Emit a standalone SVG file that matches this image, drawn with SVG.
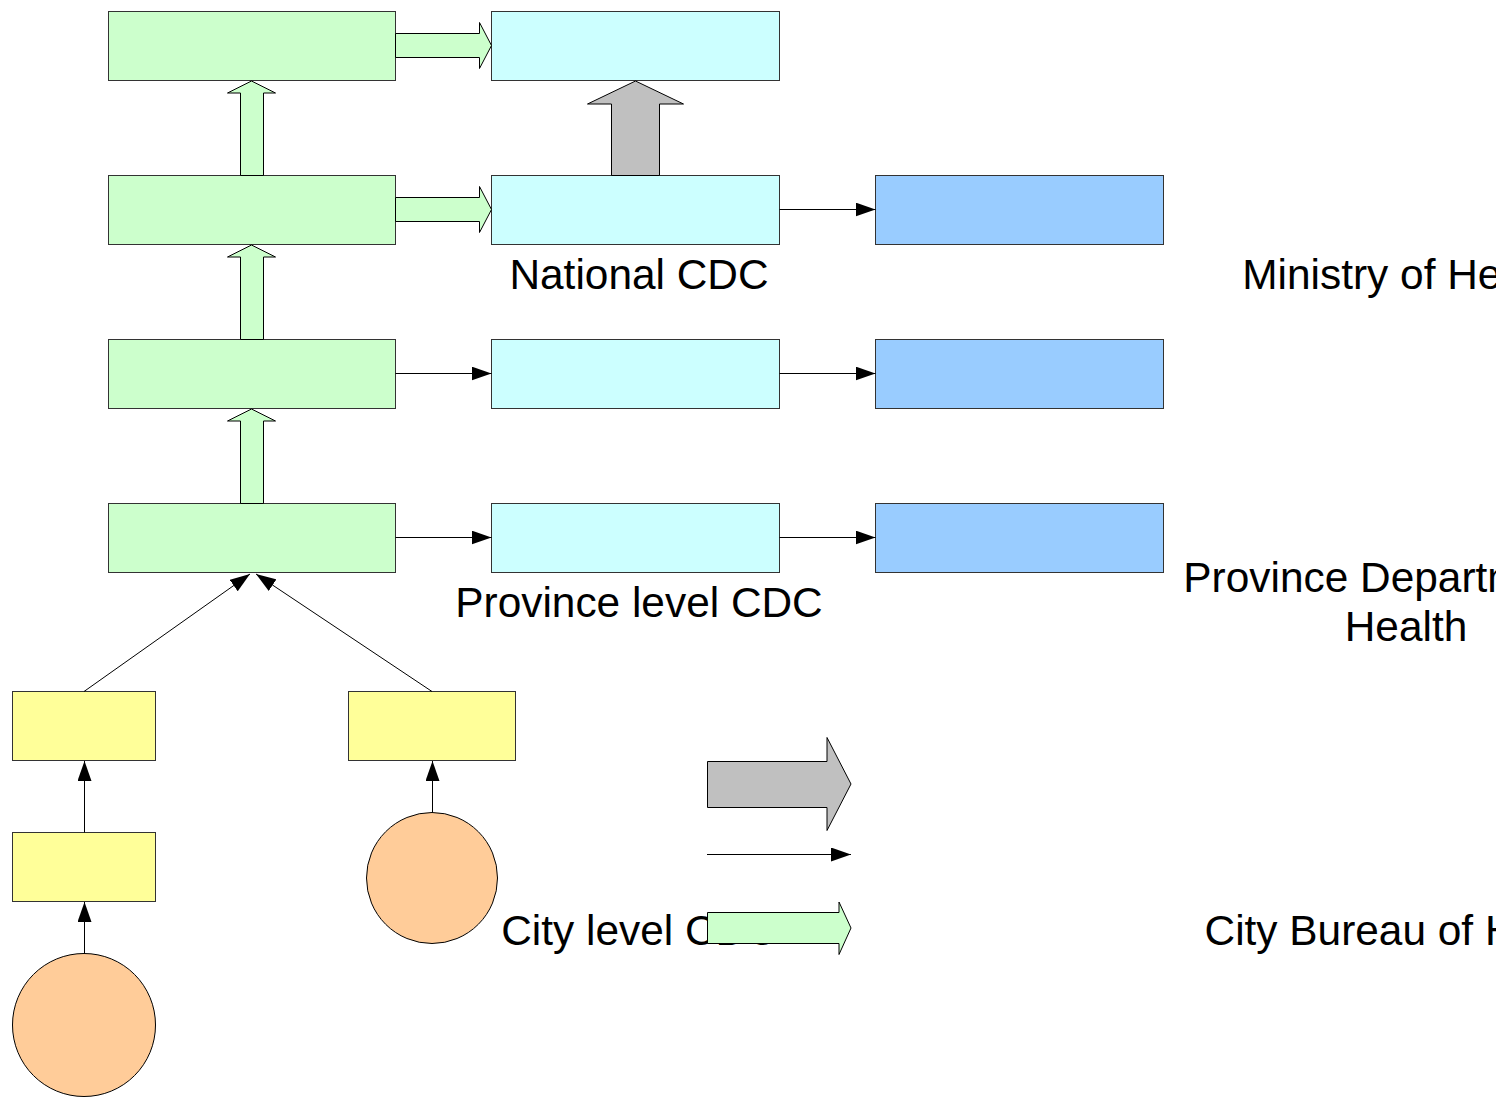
<svg xmlns="http://www.w3.org/2000/svg" width="1496" height="1097" viewBox="0 0 1496 1097">
<style>
.g{fill:#ccffcc;stroke:#333;stroke-width:1}
.c{fill:#ccffff;stroke:#333;stroke-width:1}
.b{fill:#99ccff;stroke:#333;stroke-width:1}
.y{fill:#ffff99;stroke:#333;stroke-width:1}
.o{fill:#ffcc99;stroke:#000;stroke-width:1}
.gr{fill:#c0c0c0;stroke:#000;stroke-width:1}
.ga{fill:#ccffcc;stroke:#000;stroke-width:1}
.ln{stroke:#000;stroke-width:1;fill:none;marker-end:url(#ah)}
.t{font-family:"Liberation Sans",Arial,sans-serif;font-size:42.4px;fill:#000;text-anchor:middle}
</style>
<defs>
<marker id="ah" markerWidth="20" markerHeight="14" refX="20" refY="7" orient="auto" markerUnits="userSpaceOnUse">
<path d="M0,0 L20,7 L0,14 Z" fill="#000"/>
</marker>
</defs>
<g id="labels">
<text class="t" x="639" y="289">National CDC</text>
<text class="t" x="1406" y="289">Ministry of Health</text>
<text class="t" x="639" y="617">Province level CDC</text>
<text class="t" x="1406" y="592">Province Department of</text>
<text class="t" x="1406" y="641">Health</text>
<text class="t" x="639" y="945">City level CDC</text>
<text class="t" x="1406" y="945">City Bureau of Health</text>
</g>
<g id="nodes">
<g id="g1"><rect class="g" x="108.5" y="11.5" width="287" height="69"/></g>
<g id="g2"><rect class="g" x="108.5" y="175.5" width="287" height="69"/></g>
<g id="g3"><rect class="g" x="108.5" y="339.5" width="287" height="69"/></g>
<g id="g4"><rect class="g" x="108.5" y="503.5" width="287" height="69"/></g>
<g id="c1"><rect class="c" x="491.5" y="11.5" width="288" height="69"/></g>
<g id="c2"><rect class="c" x="491.5" y="175.5" width="288" height="69"/></g>
<g id="c3"><rect class="c" x="491.5" y="339.5" width="288" height="69"/></g>
<g id="c4"><rect class="c" x="491.5" y="503.5" width="288" height="69"/></g>
<g id="b2"><rect class="b" x="875.5" y="175.5" width="288" height="69"/></g>
<g id="b3"><rect class="b" x="875.5" y="339.5" width="288" height="69"/></g>
<g id="b4"><rect class="b" x="875.5" y="503.5" width="288" height="69"/></g>
<g id="y1"><rect class="y" x="12.5" y="691.5" width="143" height="69"/></g>
<g id="y2"><rect class="y" x="348.5" y="691.5" width="167" height="69"/></g>
<g id="y3"><rect class="y" x="12.5" y="832.5" width="143" height="69"/></g>
<g id="o1"><circle class="o" cx="84" cy="1025" r="71.5"/></g>
<g id="o2"><circle class="o" cx="432" cy="878" r="65.5"/></g>
</g>
<g id="connectors">
<path class="ga" d="M395.5,33.5 H479.5 V22.5 L491.5,45.5 L479.5,68.5 V57.5 H395.5 Z"/>
<path class="ga" d="M395.5,197.5 H479.5 V186.5 L491.5,209.5 L479.5,232.5 V221.5 H395.5 Z"/>
<path class="gr" d="M611.5,175.5 V104 H587.5 L635.5,81 L683.5,104 H659.5 V175.5 Z"/>
<path class="ga" d="M240.5,175.5 V93 H227.5 L251.5,81 L275.5,93 H263.5 V175.5 Z"/>
<path class="ga" d="M240.5,339.5 V257 H227.5 L251.5,245 L275.5,257 H263.5 V339.5 Z"/>
<path class="ga" d="M240.5,503.5 V421 H227.5 L251.5,409 L275.5,421 H263.5 V503.5 Z"/>
<line class="ln" x1="779.5" y1="209.5" x2="875.5" y2="209.5"/>
<line class="ln" x1="395.5" y1="373.5" x2="491.5" y2="373.5"/>
<line class="ln" x1="779.5" y1="373.5" x2="875.5" y2="373.5"/>
<line class="ln" x1="395.5" y1="537.5" x2="491.5" y2="537.5"/>
<line class="ln" x1="779.5" y1="537.5" x2="875.5" y2="537.5"/>
<line class="ln" x1="84" y1="691.5" x2="250" y2="574"/>
<line class="ln" x1="432" y1="691.5" x2="256" y2="574"/>
<line class="ln" x1="84.5" y1="832.5" x2="84.5" y2="761"/>
<line class="ln" x1="84.5" y1="953.5" x2="84.5" y2="902"/>
<line class="ln" x1="432.5" y1="812.5" x2="432.5" y2="761"/>
</g>
<g id="legend">
<path class="gr" d="M707.5,761.5 H827 V737.5 L851,784 L827,830.5 V807.5 H707.5 Z"/>
<line class="ln" x1="707" y1="854.5" x2="851" y2="854.5"/>
<path class="ga" d="M707.5,912.5 H839 V902 L851,928 L839,954.5 V943.5 H707.5 Z"/>
</g>
</svg>
